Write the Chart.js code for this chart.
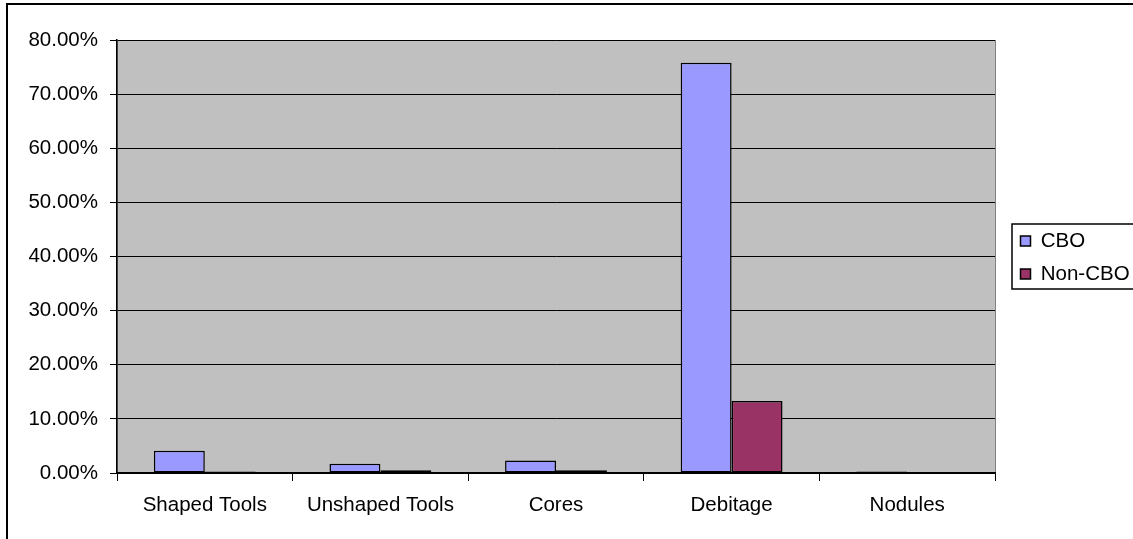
<!DOCTYPE html>
<html>
<head>
<meta charset="utf-8">
<script src="https://cdn.jsdelivr.net/npm/chart.js@4/dist/chart.umd.min.js"></script>
<style>
  html, body { margin: 0; padding: 0; background: #fff; }
  #wrap { width: 1133px; height: 539px; position: relative; }
</style>
</head>
<body>
<div id="wrap"><canvas id="lithics"></canvas></div>
<script>
// categories and values (percent)
var categories = ['Shaped Tools', 'Unshaped Tools', 'Cores', 'Debitage', 'Nodules'];
var cboValues = [4.1, 1.7, 2.3, 75.8, 0.3];
var nonCboValues = [0.3, 0.5, 0.5, 13.3, 0];
var seriesNames = ['CBO', 'Non-CBO'];
var yTicks = [0, 10, 20, 30, 40, 50, 60, 70, 80];

var fontFamily = '"Liberation Sans", Arial, sans-serif';
var fontSize = 20.5;

// grey plot background, outer frame and legend frame
var excelLook = {
    id: 'excelLook',
    beforeLayout: function(chart) {
        var lg = chart.legend;
        if (lg && !lg._patched) {
            var origFit = lg.fit;
            lg.fit = function() {
                origFit.call(this);
                this.width = 138;
            };
            lg._patched = true;
        }
    },
    afterLayout: function(chart) {
        var lg = chart.legend;
        if (lg) {
            lg.left += 13;
            lg.right += 13;
            lg.top -= 32;
            lg.bottom -= 32;
        }
    },
    beforeDraw: function(chart) {
        var ctx = chart.ctx, a = chart.chartArea;
        ctx.save();
        ctx.fillStyle = '#C0C0C0';
        ctx.fillRect(a.left, a.top, a.right - a.left, a.bottom - a.top);
        ctx.strokeStyle = '#808080';
        ctx.lineWidth = 1;
        ctx.strokeRect(a.left + 0.5, a.top + 0.5, a.right - a.left, a.bottom - a.top);
        ctx.restore();
    },
    afterDraw: function(chart) {
        var ctx = chart.ctx;
        ctx.save();
        ctx.fillStyle = '#000';
        ctx.fillRect(6, 3, 1127, 2);
        ctx.fillRect(6, 3, 2, 536);
        ctx.strokeStyle = '#000';
        ctx.lineWidth = 1.5;
        ctx.strokeRect(1012, 224, 125, 65);
        ctx.restore();
    }
};

var chart = new Chart('lithics', {
    type: 'bar',
    data: {
        labels: categories,
        datasets: [{
            label: seriesNames[0],
            data: cboValues,
            backgroundColor: '#9999FF',
            borderColor: '#000',
            borderWidth: 1.5,
            borderSkipped: false
        }, {
            label: seriesNames[1],
            data: nonCboValues,
            backgroundColor: '#993366',
            borderColor: '#000',
            borderWidth: 1.5,
            borderSkipped: false
        }]
    },
    options: {
        responsive: true,
        maintainAspectRatio: false,
        animation: false,
        categoryPercentage: 0.58,
        barPercentage: 1,
        layout: { padding: { top: 40, left: 0, right: 0, bottom: 0 } },
        plugins: {
            tooltip: { enabled: false },
            legend: {
                position: 'right',
                align: 'center',
                labels: {
                    boxWidth: 10,
                    boxHeight: 10,
                    padding: 12.5,
                    color: '#000',
                    font: { family: fontFamily, size: fontSize }
                }
            }
        },
        scales: {
            x: {
                afterFit: function(s) { s.height = 66; },
                grid: {
                    offset: true,
                    drawOnChartArea: false,
                    drawTicks: true,
                    tickLength: 8,
                    color: '#000'
                },
                border: { color: '#000', width: 1.5 },
                ticks: {
                    padding: 12,
                    color: '#000',
                    maxRotation: 0,
                    font: { family: fontFamily, size: fontSize }
                }
            },
            y: {
                min: 0,
                max: 80,
                afterFit: function(s) { s.width = 117; },
                afterBuildTicks: function(s) {
                    s.ticks = yTicks.map(function(v) { return { value: v }; });
                },
                grid: {
                    color: '#000',
                    tickLength: 7,
                    drawTicks: true
                },
                border: { color: '#000', width: 1.5 },
                ticks: {
                    padding: 12,
                    color: '#000',
                    font: { family: fontFamily, size: fontSize },
                    callback: function(v) { return v.toFixed(2) + '%'; }
                }
            }
        }
    },
    plugins: [excelLook]
});
</script>
</body>
</html>
